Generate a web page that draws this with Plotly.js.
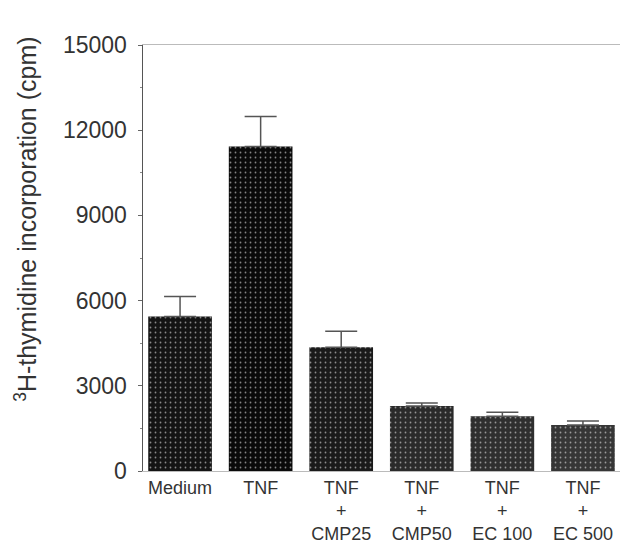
<!DOCTYPE html>
<html>
<head>
<meta charset="utf-8">
<script src="https://cdn.plot.ly/plotly-3.0.1.min.js"></script>
<style>html,body{margin:0;padding:0;background:#fff;}#chart{width:622px;height:546px;}</style>
</head>
<body>
<div id="chart"></div>
<script>
const categories = ["Medium", "TNF", "TNF<br>+<br>CMP25", "TNF<br>+<br>CMP50", "TNF<br>+<br>EC 100", "TNF<br>+<br>EC 500"];
const values = [5440, 11430, 4360, 2290, 1930, 1620];
const errors = [700, 1050, 560, 100, 140, 140];
const barColors = ["#141414", "#0a0a0a", "#1a1a1a", "#2a2a2a", "#2f2f2f", "#363636"];
const yTicks = [0, 3000, 6000, 9000, 12000, 15000];
const yTitle = "<sup>3</sup>H-thymidine incorporation (cpm)";

const trace = {
  type: "bar",
  x: categories,
  y: values,
  marker: {
    color: barColors,
    line: {width: 0},
    pattern: {shape: ".", fgcolor: "#aaaaaa", bgcolor: barColors, size: 5, solidity: 0.1, fillmode: "overlay"}
  },
  error_y: {
    type: "data",
    symmetric: false,
    array: errors,
    arrayminus: errors.map(() => 0),
    color: "#555555",
    thickness: 1.5,
    width: 16
  },
  hoverinfo: "none"
};

const layout = {
  width: 622,
  height: 546,
  margin: {l: 143, r: 2, t: 45, b: 75},
  paper_bgcolor: "#ffffff",
  plot_bgcolor: "#ffffff",
  showlegend: false,
  bargap: 0.21,
  font: {family: "Liberation Sans, Arial, sans-serif", color: "#333333"},
  xaxis: {
    type: "category",
    range: [-0.46, 5.46],
    showgrid: false,
    zeroline: false,
    showline: true,
    mirror: true,
    linecolor: "#bbbbbb",
    linewidth: 1,
    ticks: "",
    tickfont: {size: 18, color: "#333333"},
    fixedrange: true
  },
  yaxis: {
    range: [0, 15000],
    tickvals: yTicks,
    ticktext: yTicks.map(String),
    showgrid: false,
    zeroline: false,
    showline: true,
    linecolor: "#555555",
    linewidth: 1.5,
    ticks: "outside",
    ticklen: 4,
    tickcolor: "#666666",
    ticklabelstandoff: 6,
    minor: {dtick: 1500, ticks: "outside", ticklen: 2, tickcolor: "#888888"},
    tickfont: {size: 23, color: "#333333"},
    fixedrange: true
  },
  annotations: [{
    text: yTitle,
    textangle: -90,
    xref: "paper", yref: "paper",
    x: -0.247, y: 0.59,
    xanchor: "center", yanchor: "middle",
    showarrow: false,
    font: {size: 25, color: "#333333"}
  }]
};

Plotly.newPlot("chart", [trace], layout, {displayModeBar: false, staticPlot: true});
</script>
</body>
</html>
